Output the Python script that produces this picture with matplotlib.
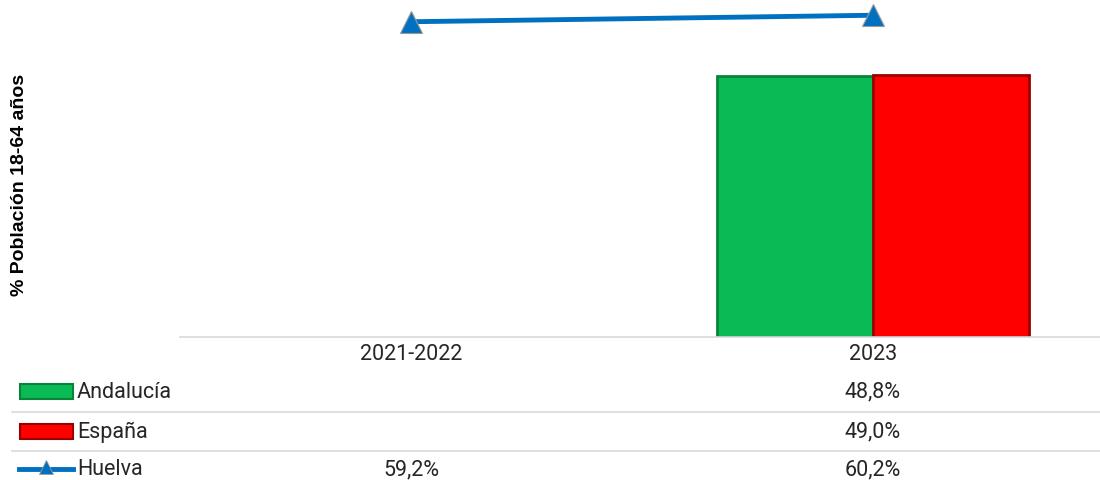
import matplotlib.pyplot as plt
from matplotlib.lines import Line2D
from matplotlib.patches import Rectangle

# data
categories = ["2021-2022", "2023"]
andalucia = [None, 48.8]
espana = [None, 49.0]
huelva = [59.2, 60.2]

andalucia_lbl = ["", "48,8%"]
espana_lbl = ["", "49,0%"]
huelva_lbl = ["59,2%", "60,2%"]

GREEN = "#0ABB55"
RED = "#FF0000"
BLUE = "#0070C0"
GRID = "#D9D9D9"
TXT = "#262626"

plt.rcParams["font.family"] = ["Roboto", "DejaVu Sans"]

W, H = 1100, 481
fig = plt.figure(figsize=(W / 100, H / 100), dpi=100)

# plot area in pixels
x0, x1 = 180, 1104
y_base, y_top = 338, 0
ax = fig.add_axes([x0 / W, 1 - y_base / H, (x1 - x0) / W, (y_base - y_top) / H])
ax.set_xlim(-0.5, 1.5)
ax.set_ylim(0, 63.2)

bw = 0.338
for i in range(len(categories)):
    if andalucia[i] is not None:
        ax.bar(i - bw / 2, andalucia[i], width=bw, color=GREEN,
               edgecolor="#07833c", linewidth=2, zorder=2)
    if espana[i] is not None:
        ax.bar(i + bw / 2, espana[i], width=bw, color=RED,
               edgecolor="#9a0000", linewidth=2, zorder=2)

for s in ax.spines.values():
    s.set_visible(False)
ax.set_xticks([])
ax.set_yticks([])
ax.axhline(0, color=GRID, lw=1.2, zorder=3, clip_on=False)

# secondary axis for the line
ax2 = ax.twinx()
ax2.set_ylim(10.7, 62.7)
ax2.plot(range(len(categories)), huelva, color=BLUE, lw=3.5, marker="^",
         markersize=16, markerfacecolor=BLUE, markeredgecolor="#9a9a9a",
         markeredgewidth=0.8, clip_on=False, zorder=4)
for s in ax2.spines.values():
    s.set_visible(False)
ax2.set_yticks([])
ax2.patch.set_visible(False)

# y label
fig.text(20 / W, 1 - 185 / H, "% Población 18-64 años", rotation=90,
         ha="center", va="center", fontsize=14, fontweight="bold",
         family=["Liberation Sans", "DejaVu Sans"])

# category labels and data table
def xpix(i):
    return (x0 + (i + 0.5) * (x1 - x0) / 2) / W

FS = 15.5
for i, c in enumerate(categories):
    fig.text(xpix(i), 1 - 355 / H, c, ha="center", va="center", fontsize=FS, color=TXT)

rows = [("Andalucía", andalucia_lbl, 392), ("España", espana_lbl, 432), ("Huelva", huelva_lbl, 470)]
for name, labels, yp in rows:
    fig.text(77 / W, 1 - yp / H, name, ha="left", va="center", fontsize=FS, color=TXT)
    for i, l in enumerate(labels):
        if l:
            fig.text(xpix(i), 1 - yp / H, l, ha="center", va="center", fontsize=FS, color=TXT)

for yp in [413, 452]:
    fig.add_artist(Line2D([12 / W, 1], [1 - yp / H, 1 - yp / H], color=GRID, lw=1.2))

# legend keys
fig.add_artist(Rectangle((20 / W, 1 - 400 / H), 53 / W, 15 / H, facecolor=GREEN,
                         edgecolor="#07833c", lw=1.5))
fig.add_artist(Rectangle((20 / W, 1 - 440 / H), 53 / W, 15 / H, facecolor=RED,
                         edgecolor="#9a0000", lw=1.5))
fig.add_artist(Line2D([19 / W, 73 / W], [1 - 470 / H, 1 - 470 / H], color=BLUE, lw=3.5))
fig.add_artist(Line2D([46 / W], [1 - 468 / H], marker="^", markersize=10, color=BLUE,
                      markeredgecolor="#9a9a9a", markeredgewidth=0.6))

fig.savefig("out.png", dpi=100)
